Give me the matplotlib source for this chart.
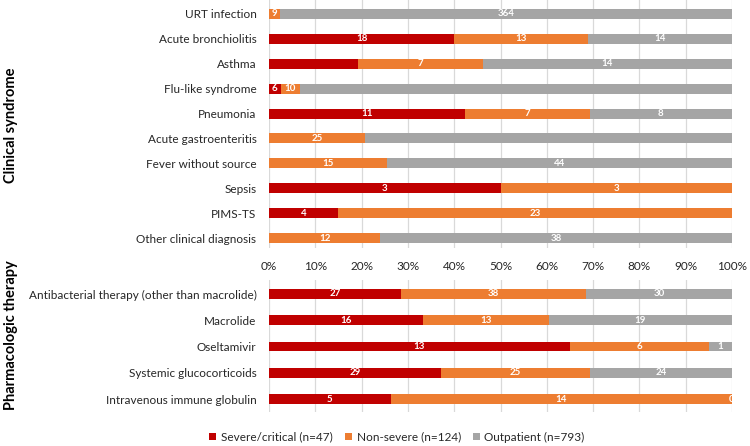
import matplotlib
matplotlib.use("Agg")
import matplotlib.pyplot as plt
from matplotlib.ticker import PercentFormatter

plt.rcParams["font.family"] = ["Lato", "DejaVu Sans"]

# ── Data ─────────────────────────────────────────────────────────────────────
series = ["Severe/critical (n=47)", "Non-severe (n=124)", "Outpatient (n=793)"]
colors = ["#C00000", "#ED7D31", "#A5A5A5"]

syndromes = ["URT infection", "Acute bronchiolitis", "Asthma", "Flu-like syndrome",
             "Pneumonia", "Acute gastroenteritis", "Fever without source",
             "Sepsis", "PIMS-TS", "Other clinical diagnosis"]
syn_severe = [0, 18, 5, 6, 11, 0, 0, 3, 4, 0]
syn_nonsev = [9, 13, 7, 10, 7, 25, 15, 3, 23, 12]
syn_outpat = [364, 14, 14, 223, 8, 96, 44, 0, 0, 38]
# labels that are not printed in the original (row, series)
syn_hidden = {(2, 0), (3, 2), (5, 2)}

therapies = ["Antibacterial therapy (other than macrolide)", "Macrolide",
             "Oseltamivir", "Systemic glucocorticoids",
             "Intravenous immune globulin"]
thr_severe = [27, 16, 13, 29, 5]
thr_nonsev = [38, 13, 6, 25, 14]
thr_outpat = [30, 19, 1, 24, 0]
thr_hidden = set()
thr_show_zero = {(4, 2)}


def draw_panel(ax, cats, cols, hidden, show_zero, height):
    totals = [sum(v) for v in zip(*cols)]
    y = list(range(len(cats)))
    left = [0.0] * len(cats)
    for s, vals in enumerate(cols):
        frac = [v / t for v, t in zip(vals, totals)]
        bars = ax.barh(y, frac, left=left, height=height, color=colors[s],
                       label=series[s], zorder=2)
        for i, (b, v) in enumerate(zip(bars, vals)):
            if (i, s) in hidden:
                continue
            if v == 0 and (i, s) not in show_zero:
                continue
            ax.text(b.get_x() + b.get_width() / 2, b.get_y() + b.get_height() / 2,
                    str(v), ha="center", va="center", color="white",
                    fontsize=7, fontweight="bold", zorder=3, clip_on=True)
        left = [l + f for l, f in zip(left, frac)]
    ax.set_yticks(y)
    ax.set_yticklabels(cats, fontsize=8.5, color="#262626")
    ax.set_xlim(0, 1)
    ax.xaxis.set_major_locator(plt.MultipleLocator(0.1))
    ax.xaxis.set_major_formatter(PercentFormatter(1.0, decimals=0))
    ax.grid(True, axis="x", color="#D9D9D9", linewidth=0.9, zorder=0)
    ax.tick_params(length=0, pad=9, labelsize=8.5, colors="#262626")
    for sp in ax.spines.values():
        sp.set_visible(False)


fig = plt.figure(figsize=(7.5, 4.46), dpi=100)
ax1 = fig.add_axes([269 / 750, 1 - 248 / 446, 463 / 750, 248 / 446])
ax2 = fig.add_axes([269 / 750, 1 - 412 / 446, 463 / 750, 132 / 446])

draw_panel(ax1, syndromes, [syn_severe, syn_nonsev, syn_outpat],
           syn_hidden, set(), 0.4)
ax1.set_ylim(9 + 10 / 24.9, -14 / 24.9)

draw_panel(ax2, therapies, [thr_severe, thr_nonsev, thr_outpat],
           thr_hidden, thr_show_zero, 0.38)
ax2.set_ylim(4 + 13 / 26.3, -14 / 26.3)
ax2.tick_params(axis="x", labelbottom=False)

fig.text(11 / 750, 1 - 125 / 446, "Clinical syndrome", rotation=90,
         ha="center", va="center", fontsize=10.5, fontweight="bold")
fig.text(11 / 750, 1 - 335 / 446, "Pharmacologic therapy", rotation=90,
         ha="center", va="center", fontsize=10.5, fontweight="bold")

handles, labels = ax1.get_legend_handles_labels()
fig.legend(handles, labels, loc="center", bbox_to_anchor=(397 / 750, 1 - 437 / 446),
           ncol=3, frameon=False, fontsize=8.5, handlelength=0.6, handleheight=0.6,
           handletextpad=0.4, columnspacing=1.0, labelcolor="#262626")

fig.savefig("out.png", dpi=100)
